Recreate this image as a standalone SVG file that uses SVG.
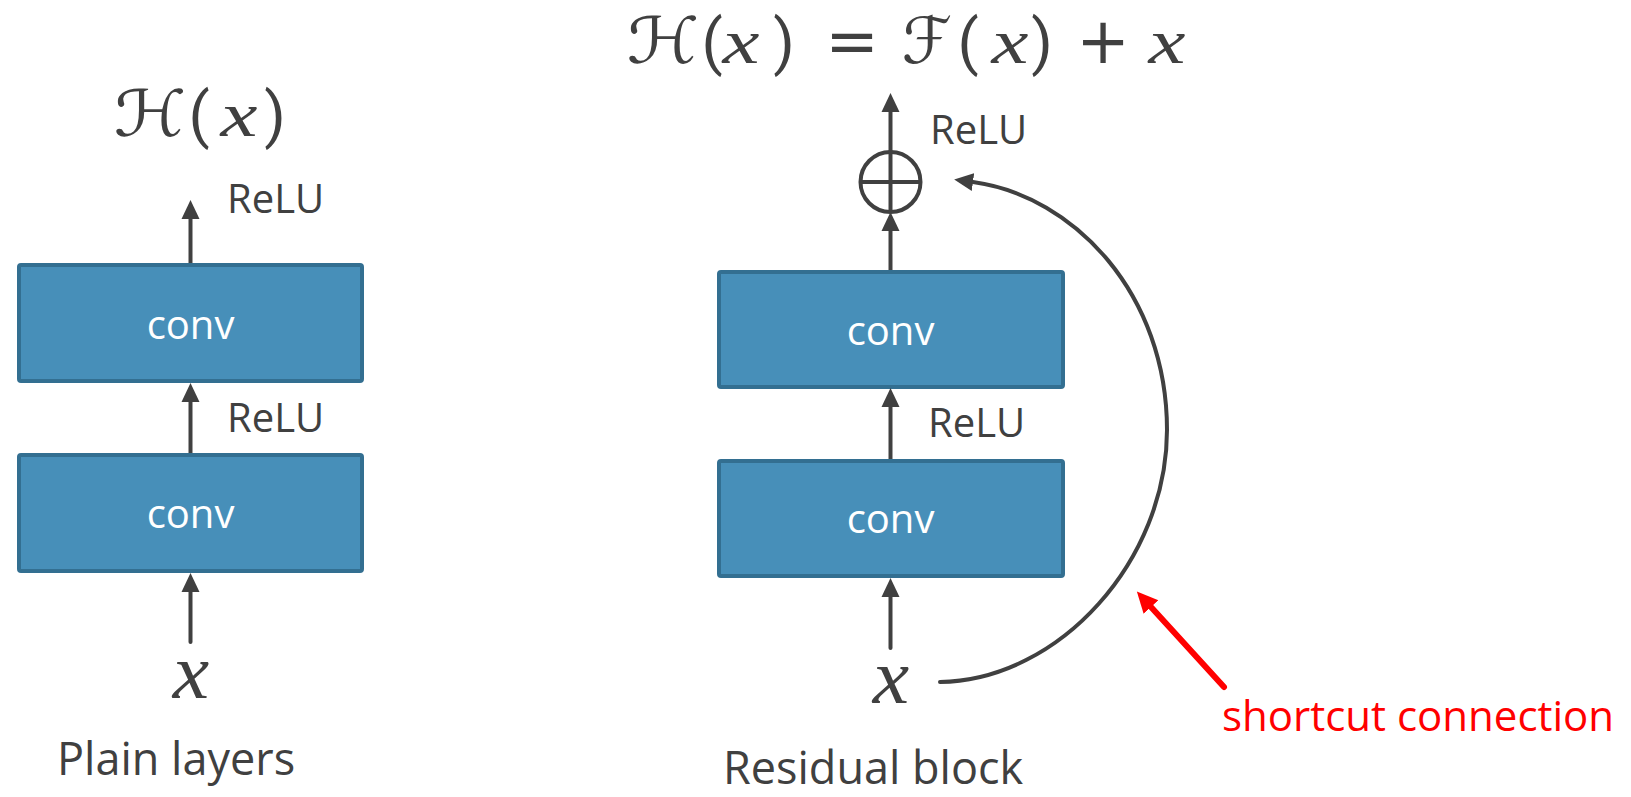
<svg xmlns="http://www.w3.org/2000/svg" width="1631" height="797" viewBox="0 0 1631 797">
<style>
.bg{fill:#ffffff}
.box{fill:#478FB9;stroke:#336F91;stroke-width:4}
.conv{font-family:"Open Sans",sans-serif;font-size:40px;fill:#ffffff;text-anchor:middle}
.lbl{font-family:"Open Sans",sans-serif;font-size:40px;fill:#404040}
.cap{font-family:"Open Sans",sans-serif;font-size:45px;fill:#404040}
.red{font-family:"Open Sans",sans-serif;font-size:42px;fill:#FF0000}
.ln{stroke:#404040;stroke-width:4;fill:none}
.mi{font-family:"Liberation Serif",serif;font-style:italic;fill:#404040;text-anchor:middle}
.mp{font-family:Roboto,sans-serif;font-weight:400;fill:#404040;text-anchor:middle}
.ms{font-family:"DejaVu Serif","DejaVu Sans",serif;fill:#404040;text-anchor:middle}
.mo{font-family:"DejaVu Sans",sans-serif;fill:#404040;text-anchor:middle}
</style>
<defs>
<marker id="ah" markerUnits="userSpaceOnUse" markerWidth="20" markerHeight="20" viewBox="0 -10 20 20" refX="0" refY="0" orient="auto">
<path d="M0,-9 L19,0 L0,9 z" fill="#404040"/>
</marker>
<marker id="ahr" markerUnits="userSpaceOnUse" markerWidth="24" markerHeight="24" viewBox="0 -12 24 24" refX="0" refY="0" orient="auto">
<path d="M0,-10 L21,0 L0,10 z" fill="#FF0000"/>
</marker>
</defs>
<rect class="bg" x="0" y="0" width="1631" height="797"/>

<g id="formula-left">
<text class="ms" transform="translate(150 136) scale(1.15 1)" x="0" y="0" font-size="64">ℋ</text>
<text class="mp" x="199" y="136" font-size="62">(</text>
<text class="mi" transform="translate(239 136) scale(1.3 1)" x="0" y="0" font-size="64">x</text>
<text class="mp" x="275" y="136" font-size="62">)</text>
</g>

<g id="formula-right">
<text class="ms" transform="translate(663 63) scale(1.15 1)" x="0" y="0" font-size="64">ℋ</text>
<text class="mp" x="712" y="63" font-size="62">(</text>
<text class="mi" transform="translate(741 63) scale(1.3 1)" x="0" y="0" font-size="64">x</text>
<text class="mp" x="784" y="63" font-size="62">)</text>
<text class="mo" x="852" y="63" font-size="64">=</text>
<text class="ms" x="927" y="63" font-size="64">ℱ</text>
<text class="mp" x="968" y="63" font-size="62">(</text>
<text class="mi" transform="translate(1010 63) scale(1.3 1)" x="0" y="0" font-size="64">x</text>
<text class="mp" x="1042" y="63" font-size="62">)</text>
<text class="mo" x="1103" y="63" font-size="64">+</text>
<text class="mi" transform="translate(1167 63) scale(1.3 1)" x="0" y="0" font-size="64">x</text>
</g>

<g id="plain-conv-top">
<rect class="box" x="19" y="265" width="343" height="116" rx="2"/>
<text class="conv" x="190.5" y="339">conv</text>
</g>
<g id="plain-conv-bottom">
<rect class="box" x="19" y="455" width="343" height="116" rx="2"/>
<text class="conv" x="190.5" y="528">conv</text>
</g>
<g id="plain-input">
<text class="mi" transform="translate(191 698) scale(1.05 1)" x="0" y="0" font-size="78">x</text>
</g>
<g id="plain-labels">
<text class="lbl" x="227" y="213">ReLU</text>
<text class="lbl" x="227" y="432">ReLU</text>
<text class="cap" x="57" y="775">Plain layers</text>
</g>

<g id="res-conv-top">
<rect class="box" x="719" y="272" width="344" height="115" rx="2"/>
<text class="conv" x="890.5" y="345">conv</text>
</g>
<g id="res-conv-bottom">
<rect class="box" x="719" y="461" width="344" height="115" rx="2"/>
<text class="conv" x="890.5" y="533">conv</text>
</g>
<g id="res-add">
<circle cx="890.5" cy="182" r="30" fill="none" stroke="#404040" stroke-width="4"/>
<line class="ln" x1="860.5" y1="182" x2="920.5" y2="182"/>
</g>
<g id="res-input">
<text class="mi" transform="translate(891 703) scale(1.05 1)" x="0" y="0" font-size="78">x</text>
</g>
<g id="res-labels">
<text class="lbl" x="930" y="144">ReLU</text>
<text class="lbl" x="928" y="437">ReLU</text>
<text class="cap" x="723" y="784">Residual block</text>
<text class="red" x="1222" y="731">shortcut connection</text>
</g>

<g id="connectors">
<line class="ln" x1="190.5" y1="263" x2="190.5" y2="219" marker-end="url(#ah)"/>
<line class="ln" x1="190.5" y1="453" x2="190.5" y2="402" marker-end="url(#ah)"/>
<line class="ln" x1="190.5" y1="642" x2="190.5" y2="592" marker-end="url(#ah)" stroke-linecap="round"/>
<line class="ln" x1="890.5" y1="212" x2="890.5" y2="112" marker-end="url(#ah)"/>
<line class="ln" x1="890.5" y1="270" x2="890.5" y2="231" marker-end="url(#ah)"/>
<line class="ln" x1="890.5" y1="459" x2="890.5" y2="407" marker-end="url(#ah)"/>
<line class="ln" x1="890.5" y1="648" x2="890.5" y2="597" marker-end="url(#ah)" stroke-linecap="round"/>
<path class="ln" d="M940,682 C1060,680 1167,560 1167,430 C1167,295 1075,196 973,182" stroke-width="5" stroke-linecap="round" marker-end="url(#ah)"/>
<line x1="1224" y1="687" x2="1151" y2="607" stroke="#FF0000" stroke-width="6" stroke-linecap="round" marker-end="url(#ahr)"/>
</g>
</svg>
